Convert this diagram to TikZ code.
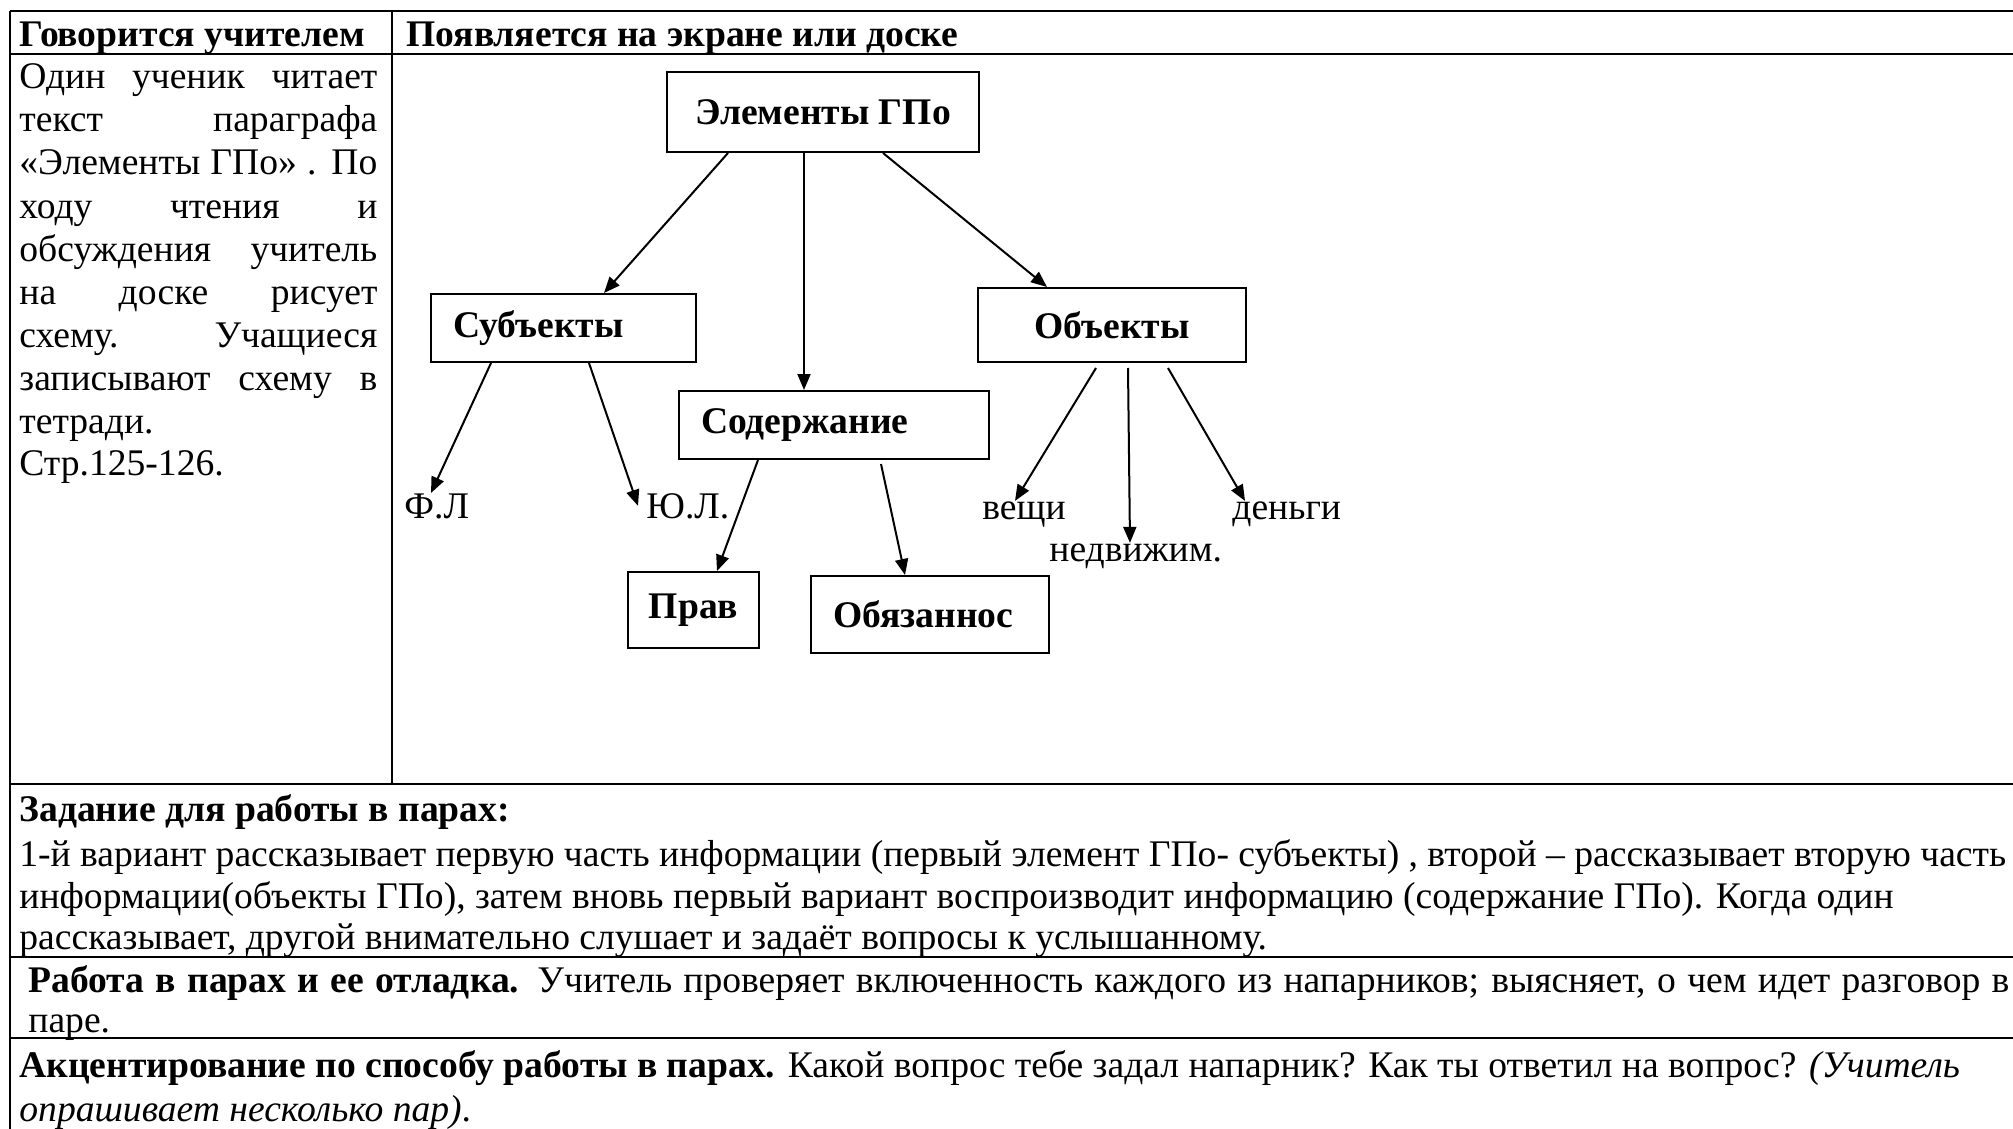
\documentclass[tikz,border=0pt]{standalone}
\usepackage{fontspec}
\setmainfont{Liberation Serif}
\usetikzlibrary{arrows.meta}
\newcommand\fs{\fontsize{18.8}{22}\selectfont}
\begin{document}
\begin{tikzpicture}[x=0.5pt,y=-0.5pt,
  hl/.style={line width=1.25pt},
  vl/.style={line width=1pt},
  box/.style={draw,line width=1pt,inner sep=0pt,font=\fs\bfseries},
  lbox/.style={box,align=left,inner xsep=11pt},
  txt/.style={inner sep=0pt,anchor=base west,font=\fs},
  btxt/.style={txt,font=\fs\bfseries},
  arr/.style={line width=1pt,-{Triangle[length=8pt,width=6.5pt]}}]
\useasboundingbox (0,0) rectangle (2013,1129);
% table rules
\draw[hl] (10,11) -- (2013,11);
\draw[hl] (10,54) -- (2013,54);
\draw[hl] (10,784) -- (2013,784);
\draw[hl] (10,957) -- (2013,957);
\draw[hl] (10,1038) -- (2013,1038);
\draw[vl] (10,11) -- (10,1129);
\draw[vl] (392,11) -- (392,784);
% header
\node[btxt] (h1) at (19,47) {Говорится учителем};
\node[btxt] (h2) at (406,47) {Появляется на экране или доске};
% left column
\node[txt] (c1) at (19,89) {\makebox[179pt][s]{Один ученик читает}};
\node[txt] (c2) at (19,132) {\makebox[179pt][s]{текст параграфа}};
\node[txt] (c3) at (19,175) {\makebox[179pt][s]{«Элементы ГПо» . По}};
\node[txt] (c4) at (19,218) {\makebox[179pt][s]{ходу чтения и}};
\node[txt] (c5) at (19,261) {\makebox[179pt][s]{обсуждения учитель}};
\node[txt] (c6) at (19,304) {\makebox[179pt][s]{на доске рисует}};
\node[txt] (c7) at (19,347) {\makebox[179pt][s]{схему. Учащиеся}};
\node[txt] (c8) at (19,390) {\makebox[179pt][s]{записывают схему в}};
\node[txt] (c9) at (19,433) {тетради.};
\node[txt] (c10) at (19,475) {Стр.125-126.};
% diagram boxes
\node[box,minimum width=156pt,minimum height=40pt] (el) at (823,112) {Элементы ГПо};
\node[lbox,text width=110.5pt,minimum height=34pt] (sub) at (563.5,328) {Субъекты};
\node[box,minimum width=134pt,minimum height=37pt] (obj) at (1112,325) {Объекты};
\node[lbox,text width=133pt,minimum height=34pt] (sod) at (834,425) {Содержание};
\node[box,minimum width=65.5pt,minimum height=38pt] (prav) at (693.5,610) {Прав};
\node[lbox,text width=97pt,minimum height=38.5pt] (obz) at (930,614.5) {Обязаннос};
% labels
\node[txt] (fl) at (404,518) {Ф.Л};
\node[txt] (yl) at (646,518) {Ю.Л.};
\node[txt] (ve) at (982,519) {вещи};
\node[txt] (ned) at (1049,561) {недвижим.};
\node[txt] (den) at (1232,519) {деньги};
% arrows
\draw[arr] ([xshift=31pt]el.south west) -- ([xshift=87pt]sub.north west);
\draw[arr] ([xshift=69pt]el.south west) -- ([xshift=63pt]sod.north west);
\draw[arr] ([xshift=108.5pt]el.south west) -- ([xshift=35pt]obj.north west);
\draw[arr] ([xshift=30.5pt]sub.south west) -- ([xshift=13.5pt]fl.north west);
\draw[arr] ([xshift=79.5pt]sub.south west) -- ([xshift=-4pt]yl.west);
\draw[arr] ([xshift=40pt]sod.south west) -- ([xshift=45pt]prav.north west);
\draw[arr] ([xshift=101.5pt,yshift=-2pt]sod.south west) -- ([xshift=47.5pt]obz.north west);
\draw[arr] ([xshift=59.5pt,yshift=-2.5pt]obj.south west) -- ([xshift=16.5pt]ve.north west);
\draw[arr] ([xshift=75.5pt,yshift=-2.5pt]obj.south west) -- ([xshift=40.5pt]ned.north west);
\draw[arr] ([xshift=95.5pt,yshift=-2.5pt]obj.south west) -- ([xshift=6.5pt]den.north west);
% bottom rows
\node[btxt] (t1) at (19,821) {Задание для работы в парах:};
\node[txt] (t2) at (19,866) {1-й вариант рассказывает первую часть информации (первый элемент ГПо- субъекты) , второй – рассказывает вторую часть};
\node[txt] (t3) at (19,908) {информации(объекты ГПо), затем вновь первый вариант воспроизводит информацию (содержание ГПо). Когда один};
\node[txt] (t4) at (19,949) {рассказывает, другой внимательно слушает и задаёт вопросы к услышанному.};
\node[txt] (t5) at (28,992) {\makebox[990.5pt][s]{\textbf{Работа в парах и ее отладка.} Учитель проверяет включенность каждого из напарников; выясняет, о чем идет разговор в}};
\node[txt] (t6) at (28,1032) {паре.};
\node[txt] (t7) at (19,1077) {\textbf{Акцентирование по способу работы в парах.} Какой вопрос тебе задал напарник? Как ты ответил на вопрос? \textit{(Учитель}};
\node[txt] (t8) at (19,1121) {\textit{опрашивает несколько пар)}.};
\end{tikzpicture}
\end{document}
